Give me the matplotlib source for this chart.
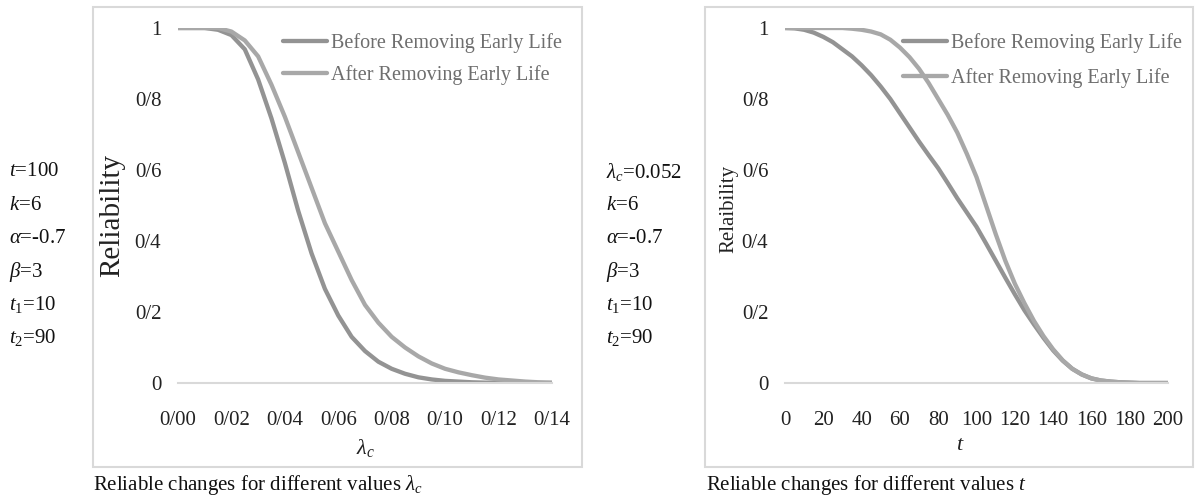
import matplotlib
matplotlib.use("Agg")
import matplotlib.pyplot as plt
from matplotlib.patches import Rectangle

plt.rcParams['font.family'] = ['Liberation Serif', 'DejaVu Serif']
plt.rcParams['mathtext.fontset'] = 'custom'
plt.rcParams['mathtext.rm'] = 'Liberation Serif'
plt.rcParams['mathtext.it'] = 'Liberation Serif:italic'
plt.rcParams['mathtext.bf'] = 'Liberation Serif:bold'

# ---------------- data ----------------
lam_c = [0.000, 0.005, 0.010, 0.015, 0.020, 0.025, 0.030, 0.035, 0.040, 0.045,
         0.050, 0.055, 0.060, 0.065, 0.070, 0.075, 0.080, 0.085, 0.090, 0.095,
         0.100, 0.105, 0.110, 0.115, 0.120, 0.125, 0.130, 0.135, 0.140]
rel_lam_before = [1.000, 1.000, 1.000, 0.995, 0.980, 0.940, 0.855, 0.745, 0.620, 0.485,
                  0.365, 0.265, 0.190, 0.130, 0.090, 0.060, 0.040, 0.026, 0.016, 0.010,
                  0.006, 0.004, 0.002, 0.001, 0.001, 0.000, 0.000, 0.000, 0.000]
rel_lam_after = [1.000, 1.000, 1.000, 1.000, 0.990, 0.965, 0.920, 0.840, 0.750, 0.650,
                 0.550, 0.450, 0.370, 0.290, 0.220, 0.170, 0.130, 0.100, 0.075, 0.055,
                 0.040, 0.030, 0.022, 0.015, 0.010, 0.007, 0.004, 0.002, 0.001]

t_vals = [0, 5, 10, 15, 20, 25, 30, 35, 40, 45, 50, 55, 60, 65, 70, 75, 80, 85, 90, 95,
          100, 105, 110, 115, 120, 125, 130, 135, 140, 145, 150, 155, 160, 165, 170, 175,
          180, 185, 190, 195, 200]
rel_t_before = [1.000, 0.999, 0.995, 0.987, 0.975, 0.960, 0.940, 0.920, 0.895, 0.867,
                0.835, 0.800, 0.760, 0.720, 0.680, 0.642, 0.605, 0.563, 0.520, 0.480,
                0.440, 0.393, 0.345, 0.297, 0.250, 0.205, 0.165, 0.127, 0.092, 0.063,
                0.040, 0.024, 0.013, 0.007, 0.004, 0.002, 0.001, 0.000, 0.000, 0.000, 0.000]
rel_t_after = [1.000, 1.000, 1.000, 1.000, 1.000, 1.000, 1.000, 0.998, 0.995, 0.990,
               0.982, 0.967, 0.945, 0.918, 0.885, 0.845, 0.800, 0.755, 0.705, 0.645,
               0.580, 0.500, 0.420, 0.345, 0.280, 0.225, 0.175, 0.132, 0.095, 0.064,
               0.040, 0.024, 0.013, 0.007, 0.004, 0.002, 0.001, 0.000, 0.000, 0.000, 0.000]

series_names = ["Before Removing Early Life", "After Removing Early Life"]
y_ticks = [0, 0.2, 0.4, 0.6, 0.8, 1.0]
y_ticklabels = ["0", "0/2", "0/4", "0/6", "0/8", "1"]
lam_ticks = [0.00, 0.02, 0.04, 0.06, 0.08, 0.10, 0.12, 0.14]
lam_ticklabels = ["0/00", "0/02", "0/04", "0/06", "0/08", "0/10", "0/12", "0/14"]
t_ticks = [0, 20, 40, 60, 80, 100, 120, 140, 160, 180, 200]
t_ticklabels = [str(v) for v in t_ticks]

params_left = ["$t$=100", "$k$=6", "$\\alpha$=-0.7", "$\\beta$=3", "$t_1$=10", "$t_2$=90"]
params_right = ["$\\lambda_c$=0.052", "$k$=6", "$\\alpha$=-0.7", "$\\beta$=3", "$t_1$=10", "$t_2$=90"]

# ---------------- figure ----------------
W, H = 1195, 501
fig = plt.figure(figsize=(W / 100, H / 100), dpi=100)
fig.patch.set_facecolor("white")

def fx(px):
    return px / W

def fy(py):
    return 1 - py / H

col_before = "#939393"
col_after = "#a8a8a8"
frame_col = "#d9d9d9"
lw = 3.1

# frames
for (x0, x1) in [(93, 582), (705, 1193)]:
    fig.patches.append(Rectangle((fx(x0), fy(467)), fx(x1) - fx(x0), fy(7) - fy(467),
                                 transform=fig.transFigure, fill=False,
                                 edgecolor=frame_col, linewidth=1.5))

def make_axes(x0, x1, xdata, ybefore, yafter, xlim, xticks, xticklabels):
    ax = fig.add_axes([fx(x0), fy(383), fx(x1) - fx(x0), fy(28) - fy(383)])
    ax.set_facecolor("none")
    l1, = ax.plot(xdata, ybefore, color=col_before, lw=lw, solid_capstyle="round",
                  solid_joinstyle="round")
    l2, = ax.plot(xdata, yafter, color=col_after, lw=lw, solid_capstyle="round",
                  solid_joinstyle="round")
    ax.set_xlim(*xlim)
    ax.set_ylim(0, 1)
    for s in ["top", "right", "left"]:
        ax.spines[s].set_visible(False)
    ax.spines["bottom"].set_color(frame_col)
    ax.spines["bottom"].set_linewidth(1.5)
    ax.set_yticks(y_ticks)
    ax.set_yticklabels(y_ticklabels)
    ax.set_xticks(xticks)
    ax.set_xticklabels(xticklabels)
    ax.tick_params(axis="y", length=0, pad=12, labelsize=15, labelcolor="#222222")
    ax.tick_params(axis="x", length=0, pad=20, labelsize=15, labelcolor="#222222")
    return ax, l1, l2

axL, l1, l2 = make_axes(178, 552, lam_c, rel_lam_before, rel_lam_after, (0, 0.14),
                        lam_ticks, lam_ticklabels)
axR, r1, r2 = make_axes(785, 1168, t_vals, rel_t_before, rel_t_after, (0, 200),
                        t_ticks, t_ticklabels)

# legends
for h, (lx, ly), sp in [((l1, l2), (283, 33), 0.6), ((r1, r2), (903, 33), 0.75)]:
    leg = fig.legend(h, series_names, loc="upper left",
                     bbox_to_anchor=(fx(lx), fy(ly)), frameon=False,
                     borderpad=0, borderaxespad=0, handlelength=2.2,
                     handletextpad=0.2, labelspacing=sp, fontsize=14.5)
    for txt in leg.get_texts():
        txt.set_color("#6e6e6e")

# y labels
fig.text(fx(112), fy(215), "Reliability", rotation=90, ha="center", va="center",
         fontsize=21, color="#222222")
fig.text(fx(729), fy(209), "Relaibility", rotation=90, ha="center", va="center",
         fontsize=15, color="#222222")

# x labels
fig.text(fx(365), fy(448), "$\\lambda_c$", ha="center", va="center", fontsize=16,
         color="#222222")
fig.text(fx(960), fy(446), "$t$", ha="center", va="center", fontsize=16,
         color="#222222")

# parameter blocks
for i, (pl, pr) in enumerate(zip(params_left, params_right)):
    y = 172 + i * 33.2
    fig.text(fx(9), fy(y), pl, ha="left", va="center", fontsize=15, color="#111111")
    fig.text(fx(606), fy(y), pr, ha="left", va="center", fontsize=15, color="#111111")

# captions
fig.text(fx(93), fy(485), "Reliable changes for different values $\\lambda_c$",
         ha="left", va="center", fontsize=15, color="#111111")
fig.text(fx(706), fy(485), "Reliable changes for different values $t$",
         ha="left", va="center", fontsize=15, color="#111111")

fig.savefig("out.png", dpi=100, facecolor="white")
